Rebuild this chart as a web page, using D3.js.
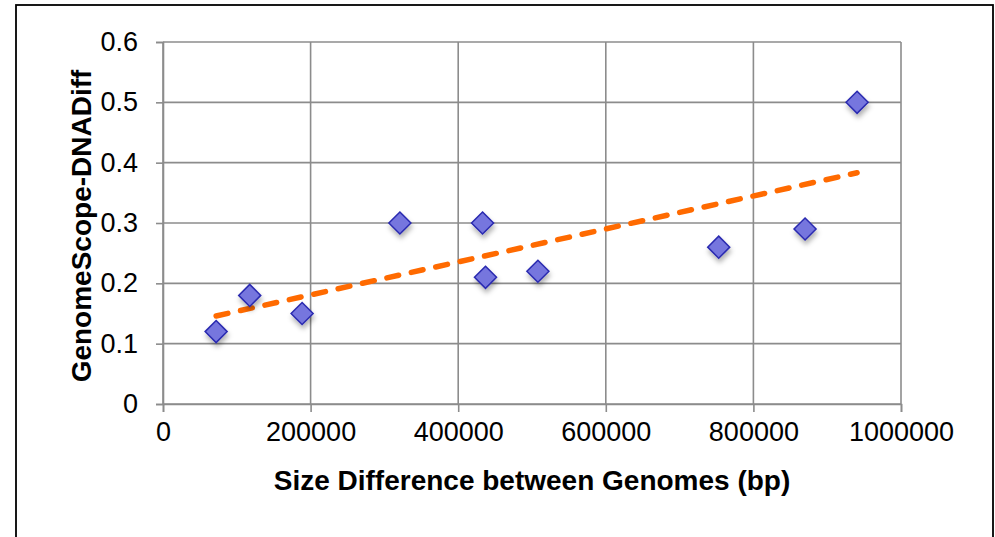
<!DOCTYPE html>
<html>
<head>
<meta charset="utf-8">
<script src="https://cdn.jsdelivr.net/npm/d3@7"></script>
<style>
  body { margin: 0; background: #fff; overflow: hidden; }
  svg { display: block; font-family: "Liberation Sans", Arial, sans-serif; }
</style>
</head>
<body>
<div id="chart"></div>
<script>
// values
const sizeDiff = [72000, 117500, 188500, 321000, 433000, 437000, 508000, 753000, 870000, 940500];
const dnaDiff = [0.12, 0.18, 0.15, 0.30, 0.30, 0.21, 0.22, 0.26, 0.29, 0.50];
const xTicks = [0, 200000, 400000, 600000, 800000, 1000000];
const yTicks = [0, 0.1, 0.2, 0.3, 0.4, 0.5, 0.6];

const width = 995, height = 537;
const margin = { top: 42, right: 94, bottom: 133, left: 163 };
const innerWidth = width - margin.left - margin.right,
  innerHeight = height - margin.top - margin.bottom;

const points = sizeDiff.map((x, i) => ({ x: x, y: dnaDiff[i] }));

const svg = d3.select("#chart")
  .append("svg")
  .attr("width", width)
  .attr("height", height);

// outer frame (its bottom edge sits below the visible area)
svg.append("rect")
  .attr("x", 16).attr("y", 5)
  .attr("width", 977).attr("height", 560)
  .attr("fill", "none")
  .attr("stroke", "#000")
  .attr("stroke-width", 1.8);

const defs = svg.append("defs");
const shadow = defs.append("filter")
  .attr("id", "shadow")
  .attr("x", "-50%").attr("y", "-50%")
  .attr("width", "200%").attr("height", "200%");
shadow.append("feDropShadow")
  .attr("dx", 1).attr("dy", 4)
  .attr("stdDeviation", 2.5)
  .attr("flood-color", "#000")
  .attr("flood-opacity", 0.3);

const g = svg.append("g")
  .attr("transform", `translate(${margin.left},${margin.top})`);

const xScale = d3.scaleLinear()
  .domain([0, 1000000])
  .range([0, innerWidth]);

const yScale = d3.scaleLinear()
  .domain([0, 0.6])
  .range([innerHeight, 0]);

// grid
g.append("g")
  .selectAll("line")
  .data(yTicks)
  .join("line")
  .attr("x1", 0).attr("x2", innerWidth)
  .attr("y1", d => yScale(d)).attr("y2", d => yScale(d))
  .attr("stroke", "#8c8c8c")
  .attr("stroke-width", 1.6);

g.append("g")
  .selectAll("line")
  .data(xTicks)
  .join("line")
  .attr("x1", d => xScale(d)).attr("x2", d => xScale(d))
  .attr("y1", 0).attr("y2", innerHeight)
  .attr("stroke", "#8c8c8c")
  .attr("stroke-width", 1.6);

// axes
const xAxis = g.append("g")
  .attr("transform", `translate(0,${innerHeight})`)
  .call(d3.axisBottom(xScale).tickValues(xTicks).tickFormat(d3.format("d")).tickSize(8).tickPadding(10));

const yAxis = g.append("g")
  .call(d3.axisLeft(yScale).tickValues(yTicks).tickFormat(d => d === 0 ? "0" : d3.format(".1f")(d)).tickSize(7).tickPadding(18));

[xAxis, yAxis].forEach(ax => {
  ax.select(".domain").attr("stroke", "#8c8c8c").attr("stroke-width", 1.6);
  ax.selectAll(".tick line").attr("stroke", "#8c8c8c").attr("stroke-width", 1.6);
  ax.selectAll("text")
    .attr("fill", "#000")
    .style("font-size", "27px")
    .style("font-family", "'Liberation Sans', Arial, sans-serif");
});

// least squares trendline
const mx = d3.mean(points, d => d.x), my = d3.mean(points, d => d.y);
const slope = d3.sum(points, d => (d.x - mx) * (d.y - my)) / d3.sum(points, d => (d.x - mx) ** 2);
const intercept = my - slope * mx;
const xExt = d3.extent(sizeDiff);
const trend = xExt.map(x => ({ x: x, y: intercept + slope * x }));

g.append("path")
  .datum(trend)
  .attr("d", d3.line().x(d => xScale(d.x)).y(d => yScale(d.y)))
  .attr("fill", "none")
  .attr("stroke", "#ff6a00")
  .attr("stroke-width", 5.5)
  .attr("stroke-linecap", "round")
  .attr("stroke-dasharray", "12,13");

// diamonds
g.append("g")
  .selectAll("path")
  .data(points)
  .join("path")
  .attr("transform", d => `translate(${xScale(d.x)},${yScale(d.y)})`)
  .attr("d", d3.symbol().type(d3.symbolDiamond2).size(310))
  .attr("fill", "#7676de")
  .attr("stroke", "#2a2ab0")
  .attr("stroke-width", 1.5)
  .attr("filter", "url(#shadow)");

// axis titles
svg.append("text")
  .attr("x", margin.left + innerWidth / 2)
  .attr("y", 490)
  .attr("text-anchor", "middle")
  .style("font-size", "28px")
  .style("font-weight", "bold")
  .text("Size Difference between Genomes (bp)");

svg.append("text")
  .attr("transform", `translate(91,${margin.top + innerHeight / 2 + 3}) rotate(-90)`)
  .attr("text-anchor", "middle")
  .style("font-size", "28px")
  .style("font-weight", "bold")
  .text("GenomeScope-DNADiff");
</script>
</body>
</html>
